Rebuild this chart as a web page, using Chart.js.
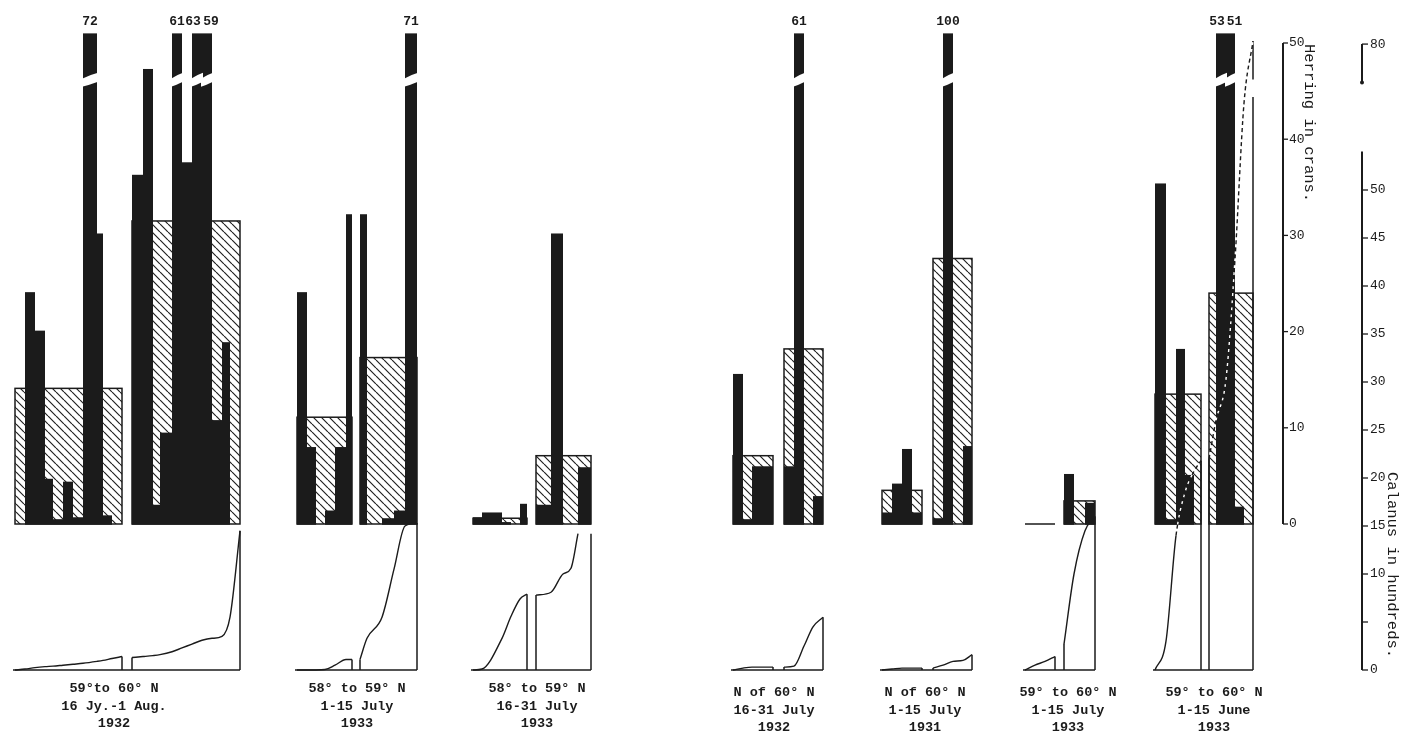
<!DOCTYPE html>
<html>
<head>
<meta charset="utf-8">
<script src="https://cdn.jsdelivr.net/npm/chart.js"></script>
<style>
  body { margin: 0; background: #fff; }
  canvas { display: block; }
</style>
</head>
<body>
<canvas id="herring-chart" width="1402" height="738"></canvas>
<script>
/* ---- data ---- */

// one entry per diagram (area and fortnight)
let groupLabels = [
    ['59°to 60° N', '16 Jy.-1 Aug.', '1932'],
    ['58° to 59° N', '1-15 July', '1933'],
    ['58° to 59° N', '16-31 July', '1933'],
    ['N of 60° N', '16-31 July', '1932'],
    ['N of 60° N', '1-15 July', '1931'],
    ['59° to 60° N', '1-15 July', '1933'],
    ['59° to 60° N', '1-15 June', '1933']
]

// every diagram is split in two boxes, this says which diagram a box belongs to
let boxGroup = [0, 0, 1, 1, 2, 2, 3, 3, 4, 4, 5, 5, 6, 6]

// herring per haul, crans (black bars)
let herringCatch = [
    [0, 24.1, 20.1, 4.7, 0.5, 4.4, 0.7, 72, 30.2, 0.9, 0],
    [36.3, 47.3, 2.0, 9.5, 61, 37.6, 63, 59, 10.8, 18.9, 0],
    [24.1, 8.0, 0, 1.4, 8.0, 32.2],
    [32.2, 0, 0.6, 1.4, 71],
    [0.7, 1.2, 0.2, 0, 2.1],
    [2.0, 30.2, 0, 0, 5.9],
    [15.6, 0.5, 6.0, 6.0],
    [6.0, 61, 0, 2.9],
    [1.2, 4.2, 7.8, 1.2],
    [0.6, 100, 0, 8.1],
    [0, 0, 0],
    [5.2, 0, 2.2],
    [35.4, 0.5, 18.2, 5.1, 0],
    [0, 53, 51, 1.8, 0]
]

// mean catch of each box, crans (hatched)
let herringMean = [14.1, 31.5, 11.1, 17.3, 0.6, 7.1, 7.1, 18.2, 3.5, 27.6, 0, 2.4, 13.5, 24.0]

// cumulative Calanus at the edges of the hauls, hundreds
let calanusCum = [
    [0, 0.1, 0.25, 0.35, 0.4, 0.5, 0.6, 0.7, 0.9, 1.0, 1.2, 1.4],
    [1.3, 1.4, 1.5, 1.6, 1.9, 2.3, 2.7, 3.1, 3.3, 3.5, 5.5, 14.5],
    [0, 0, 0, 0.05, 0.5, 1.1, 1.1],
    [1.1, 3.3, 5.5, 10.5, 15.0, 15.3],
    [0, 0.1, 3.3, 5.6, 7.4, 7.9],
    [7.8, 8.1, 10.0, 10.6, 14.2],
    [0, 0.2, 0.3, 0.3, 0.3],
    [0.3, 0.4, 2.5, 4.5, 5.5],
    [0, 0.1, 0.2, 0.2, 0.2],
    [0.2, 0.5, 0.9, 1.0, 1.6],
    [0, 0.5, 0.9, 1.4],
    [2.7, 10.0, 14.5, 16.0],
    [0, 3.0, 14.0, 18.5, 20.7, 21.8],
    [22, 26, 30.3, 42.8, 69.4, 80.3]
]

let herringTicks = [0, 10, 20, 30, 40, 50]
let calanusTicks = [0, 5, 10, 15, 20, 25, 30, 35, 40, 45, 50]
let calanusTopTick = 80

/* ---- layout (page pixels) ---- */
let herringZeroPx = 524, herringFiftyPx = 43
let calanusZeroPx = 670, calanusFiftyPx = 190
let pageHeight = 738
let boxLeft = [15, 132, 297, 360, 473, 536, 733, 784, 882, 933, 1025, 1064, 1155, 1209]
let haulWidths = [
    [10, 10, 10, 8, 10, 10, 10, 14, 6, 9, 10],
    [11, 10, 7, 12, 10, 10, 10, 10, 10, 8, 10],
    [10, 9, 9, 10, 11, 6],
    [7, 15, 12, 11, 12],
    [9, 20, 9, 9, 7],
    [15, 12, 8, 7, 13],
    [10, 9, 11, 10],
    [10, 10, 9, 10],
    [10, 10, 10, 10],
    [10, 10, 10, 9],
    [10, 10, 10],
    [10, 11, 10],
    [11, 10, 9, 9, 7],
    [7, 10, 9, 9, 9]
]
let labelX = [114, 357, 537, 774, 925, 1068, 1214]
let labelTop = [689, 689, 689, 693, 693, 693, 693]
let herringAxisX = 1283, calanusAxisX = 1362
let font = "'Liberation Mono', 'Courier New', monospace"
let ink = '#1b1b1b'

// scales: herring and calanus share the page, so both ranges come from the pixel layout
let herringPerPx = 50 / (herringZeroPx - herringFiftyPx)
let calanusPerPx = 50 / (calanusZeroPx - calanusFiftyPx)
let calanusAtBarBase = (calanusZeroPx - herringZeroPx) * calanusPerPx

// broken scales: herring bars above 50 are cut, calanus jumps from 54 to 76
let herringCap = 51
let calanusGapLow = 54, calanusGapHigh = 76
function herringShown(v) { return Math.min(v, herringCap) }
function calanusShown(v) {
    if (v <= calanusGapLow) return v
    if (v >= calanusGapHigh) return v - 14.8
    return calanusGapLow + (v - calanusGapLow) * 7.2 / 22
}

function boxEdges(b) {
    let edges = [boxLeft[b]]
    haulWidths[b].forEach(w => edges.push(edges[edges.length - 1] + w))
    return edges
}

/* ---- line datasets: calanus curves and their frames ---- */
let datasets = []

function dashedPart(c) {
    return c.p1.parsed.y > calanusAtBarBase + 1
}

calanusCum.forEach((cum, b) => {
    let edges = boxEdges(b)
    let points = cum.map((v, i) => ({ x: edges[i], y: calanusShown(v) }))
    datasets.push({
        data: points,
        yAxisID: 'c',
        borderColor: ink,
        borderWidth: 1.4,
        pointRadius: 0,
        tension: 0.4,
        cubicInterpolationMode: 'monotone',
        segment: { borderDash: c => dashedPart(c) ? [4, 3] : undefined }
    })
    // white dashes so the curve shows where it runs over the black bars
    datasets.push({
        data: points,
        yAxisID: 'c',
        borderColor: '#fff',
        borderWidth: 1.4,
        borderDash: [3, 4],
        borderDashOffset: 3,
        pointRadius: 0,
        tension: 0.4,
        cubicInterpolationMode: 'monotone',
        segment: { borderColor: c => dashedPart(c) ? '#fff' : 'rgba(0,0,0,0)' }
    })
})

// vertical edge of a frame, with a short cut where the calanus scale is broken
function frameEdge(points, x, v) {
    points.push({ x: x, y: null }, { x: x, y: 0 })
    if (v > calanusGapHigh) {
        let top = calanusShown(calanusGapHigh)
        points.push({ x: x, y: top - 1.5 }, { x: x, y: null },
            { x: x, y: top + 0.3 }, { x: x, y: calanusShown(v) })
    } else {
        points.push({ x: x, y: calanusShown(v) })
    }
}

groupLabels.forEach((lines, g) => {
    let boxes = []
    boxGroup.forEach((gg, b) => { if (gg == g) boxes.push(b) })
    let firstEdges = boxEdges(boxes[0])
    let lastEdges = boxEdges(boxes[boxes.length - 1])
    let points = [{ x: firstEdges[0] - 2, y: 0 }, { x: lastEdges[lastEdges.length - 1], y: 0 }]
    boxes.forEach((b, k) => {
        let edges = boxEdges(b)
        let cum = calanusCum[b]
        if (k > 0) frameEdge(points, edges[0], cum[0])
        frameEdge(points, edges[edges.length - 1], cum[cum.length - 1])
    })
    datasets.push({
        data: points,
        yAxisID: 'c',
        borderColor: ink,
        borderWidth: 1.5,
        pointRadius: 0,
        tension: 0,
        spanGaps: false
    })
})

/* ---- plugin: hatched boxes, black bars, breaks, axes and texts ---- */
let hatchPattern = null

function makeHatch(target) {
    let tile = document.createElement('canvas')
    tile.width = 8
    tile.height = 8
    let g = tile.getContext('2d')
    g.strokeStyle = '#222'
    g.lineWidth = 1.2
    g.beginPath()
    for (let o of [-8, 0, 8]) {
        g.moveTo(o, 0)
        g.lineTo(o + 8, 8)
    }
    g.stroke()
    return target.createPattern(tile, 'repeat')
}

let haulBars = {
    id: 'haulBars',
    beforeDatasetsDraw(chart) {
        let c = chart.ctx
        let xs = chart.scales.x, ys = chart.scales.y
        if (!hatchPattern) hatchPattern = makeHatch(c)
        let base = ys.getPixelForValue(0)
        c.save()
        herringCatch.forEach((hauls, b) => {
            let edges = boxEdges(b)
            let left = xs.getPixelForValue(edges[0])
            let right = xs.getPixelForValue(edges[edges.length - 1])
            let top = ys.getPixelForValue(herringMean[b])
            if (base - top > 0.5) {
                c.fillStyle = hatchPattern
                c.fillRect(left, top, right - left, base - top)
            }
            c.strokeStyle = ink
            c.lineWidth = 1.5
            c.strokeRect(left, top, right - left, base - top)
            c.fillStyle = ink
            hauls.forEach((v, i) => {
                if (v <= 0) return
                let x0 = xs.getPixelForValue(edges[i])
                let x1 = xs.getPixelForValue(edges[i + 1])
                let y1 = ys.getPixelForValue(herringShown(v))
                c.fillRect(x0, y1, x1 - x0, base - y1 + 0.75)
            })
        })
        c.restore()
    },
    afterDatasetsDraw(chart) {
        let c = chart.ctx
        let xs = chart.scales.x, ys = chart.scales.y, cs = chart.scales.c
        c.save()

        // breaks and true values of the bars that run off the top
        let cut = ys.getPixelForValue(46.6)
        let capTop = ys.getPixelForValue(herringCap)
        c.font = 'bold 13px ' + font
        c.textAlign = 'center'
        c.textBaseline = 'middle'
        herringCatch.forEach((hauls, b) => {
            let edges = boxEdges(b)
            hauls.forEach((v, i) => {
                if (v <= 50) return
                let x0 = xs.getPixelForValue(edges[i]) - 1
                let x1 = xs.getPixelForValue(edges[i + 1]) + 1
                c.fillStyle = '#fff'
                c.beginPath()
                c.moveTo(x0, cut + 3)
                c.quadraticCurveTo((x0 + x1) / 2, cut - 1, x1, cut - 3)
                c.lineTo(x1, cut + 6)
                c.quadraticCurveTo((x0 + x1) / 2, cut + 9, x0, cut + 11)
                c.closePath()
                c.fill()
                let nudge = 0
                if (hauls[i - 1] > 50) nudge += 4
                if (hauls[i + 1] > 50) nudge -= 4
                c.fillStyle = ink
                c.fillText(String(v), (x0 + x1) / 2 + nudge, capTop - 12)
            })
        })

        // herring axis
        c.font = '13px ' + font
        c.strokeStyle = ink
        c.fillStyle = ink
        c.lineWidth = 2
        c.beginPath()
        c.moveTo(herringAxisX, ys.getPixelForValue(0))
        c.lineTo(herringAxisX, ys.getPixelForValue(50))
        c.stroke()
        c.lineWidth = 1.3
        c.textAlign = 'left'
        herringTicks.forEach(t => {
            let y = ys.getPixelForValue(t)
            c.beginPath()
            c.moveTo(herringAxisX, y)
            c.lineTo(herringAxisX + 5, y)
            c.stroke()
            c.fillText(String(t), herringAxisX + 6, y)
        })

        // calanus axis, with the break up to 80
        c.lineWidth = 2
        c.beginPath()
        c.moveTo(calanusAxisX, cs.getPixelForValue(0))
        c.lineTo(calanusAxisX, cs.getPixelForValue(calanusGapLow))
        c.moveTo(calanusAxisX, cs.getPixelForValue(calanusShown(calanusGapHigh)))
        c.lineTo(calanusAxisX, cs.getPixelForValue(calanusShown(calanusTopTick)))
        c.stroke()
        c.beginPath()
        c.arc(calanusAxisX, cs.getPixelForValue(calanusShown(calanusGapHigh)), 2, 0, Math.PI * 2)
        c.fill()
        c.lineWidth = 1.3
        calanusTicks.concat([calanusTopTick]).forEach(t => {
            let y = cs.getPixelForValue(calanusShown(t))
            c.beginPath()
            c.moveTo(calanusAxisX, y)
            c.lineTo(calanusAxisX + 6, y)
            c.stroke()
            if (t != 5) c.fillText(String(t), calanusAxisX + 8, y)
        })

        // axis titles, written downwards
        c.font = '15.5px ' + font
        c.textBaseline = 'middle'
        c.textAlign = 'left'
        c.save()
        c.translate(herringAxisX + 26, ys.getPixelForValue(50) + 1)
        c.rotate(Math.PI / 2)
        c.fillText('Herring in crans.', 0, 0)
        c.restore()
        c.save()
        c.translate(calanusAxisX + 30, cs.getPixelForValue(20) - 6)
        c.rotate(Math.PI / 2)
        c.fillText('Calanus in hundreds.', 0, 0)
        c.restore()

        // diagram captions
        c.font = 'bold 13.5px ' + font
        c.textAlign = 'center'
        c.textBaseline = 'top'
        groupLabels.forEach((lines, g) => {
            lines.forEach((line, k) => {
                c.fillText(line, labelX[g], labelTop[g] - 7 + k * 17.5)
            })
        })
        c.restore()
    }
}

/* ---- the chart ---- */
let chartCanvas = document.querySelector('#herring-chart')
let herringChart = new Chart(chartCanvas.getContext('2d'), {
    type: 'line',
    data: { datasets: datasets },
    options: {
        responsive: false,
        animation: false,
        devicePixelRatio: 1,
        layout: { padding: 0 },
        plugins: { legend: { display: false }, tooltip: { enabled: false } },
        scales: {
            x: { type: 'linear', min: 0, max: 1402, display: false },
            y: {
                type: 'linear',
                display: false,
                min: -(pageHeight - herringZeroPx) * herringPerPx,
                max: 50 + herringFiftyPx * herringPerPx
            },
            c: {
                type: 'linear',
                display: false,
                min: -(pageHeight - calanusZeroPx) * calanusPerPx,
                max: 50 + calanusFiftyPx * calanusPerPx
            }
        }
    },
    plugins: [haulBars]
})
</script>
</body>
</html>
